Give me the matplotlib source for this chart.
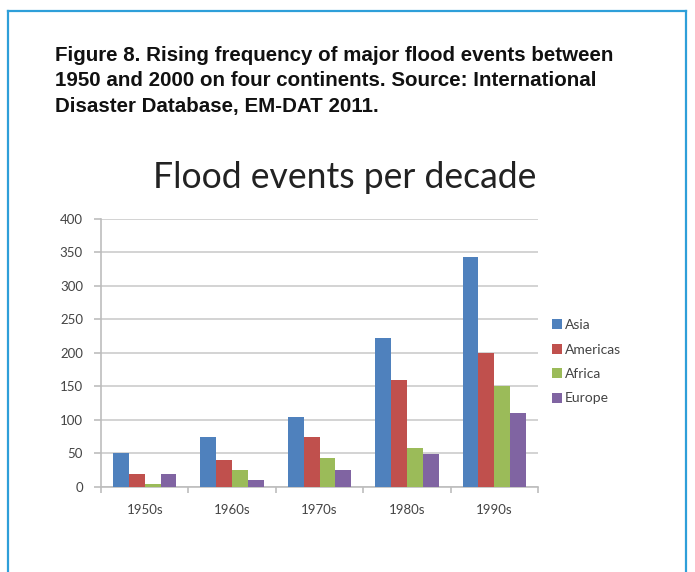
import matplotlib
matplotlib.use("Agg")
import matplotlib.pyplot as plt
import numpy as np
from matplotlib.lines import Line2D

# Flood events per decade by continent (EM-DAT 2011)
decades = ["1950s", "1960s", "1970s", "1980s", "1990s"]
continents = ["Asia", "Americas", "Africa", "Europe"]
asia = [50, 75, 105, 222, 342]
americas = [20, 40, 75, 160, 200]
africa = [5, 25, 43, 58, 150]
europe = [20, 10, 25, 49, 110]
series = [asia, americas, africa, europe]
colors = ["#4F81BD", "#C0504D", "#9BBB59", "#8064A2"]
y_ticks = [0, 50, 100, 150, 200, 250, 300, 350, 400]

caption_lines = [
    "Figure 8. Rising frequency of major flood events between",
    "1950 and 2000 on four continents. Source: International",
    "Disaster Database, EM-DAT 2011.",
]
chart_title = "Flood events per decade"

W, H = 695, 572
fig = plt.figure(figsize=(W / 100, H / 100), dpi=100)
fig.patch.set_facecolor("white")


def fx(px):
    return px / W


def fy(py):
    return 1 - py / H


# blue frame around the figure box (open at the bottom)
frame_color = "#2E9FD9"
for xs, ys in [([7.5, 7.5], [11, H]), ([7.5, 686], [11, 11]), ([686, 686], [11, H])]:
    fig.add_artist(Line2D([fx(v) for v in xs], [fy(v) for v in ys], color=frame_color,
                          lw=1.6, transform=fig.transFigure))

# caption
for i, line in enumerate(caption_lines):
    fig.text(fx(55), fy(61 + 25.5 * i), line, fontsize=14.8, fontweight="bold",
             family="Liberation Sans", color="#111111", va="baseline", ha="left")

# plot area
ax = fig.add_axes([fx(101), fy(487), fx(538) - fx(101), fy(218.5) - fy(487)])
x = np.arange(len(decades))
n = len(series)
bw = 1 / (n + 1.5)
for k, (vals, c, name) in enumerate(zip(series, colors, continents)):
    ax.bar(x + (k - (n - 1) / 2) * bw, vals, width=bw, color=c, label=name,
           zorder=3, linewidth=0)

ax.set_xlim(-0.5, len(decades) - 0.5)
ax.set_ylim(0, 400)
ax.set_yticks(y_ticks)
ax.set_yticklabels([str(v) for v in y_ticks])
ax.set_xticks(x)
ax.set_xticklabels(decades)
ax.set_xticks(np.arange(len(decades) + 1) - 0.5, minor=True)

grid_color = "#d0d0d0"
ax.grid(axis="y", color=grid_color, lw=1.3, zorder=0)
for s in ["top", "right"]:
    ax.spines[s].set_visible(False)
for s in ["left", "bottom"]:
    ax.spines[s].set_color("#bdbdbd")
    ax.spines[s].set_linewidth(1.2)

ax.tick_params(axis="y", which="major", length=5, width=1.2, color="#bdbdbd",
               pad=8, labelcolor="#444444", labelsize=9.5)
ax.tick_params(axis="x", which="major", length=0, pad=12, labelcolor="#444444",
               labelsize=9.5)
ax.tick_params(axis="x", which="minor", length=4, width=1.2, color="#bdbdbd")
for lab in ax.get_xticklabels() + ax.get_yticklabels():
    lab.set_family("Lato")

# chart title
fig.text(fx(345), fy(188), chart_title, fontsize=25.6, family="Lato", color="#222222",
         ha="center", va="baseline")

# legend
leg = ax.legend(loc="upper left", bbox_to_anchor=(fx(552), fy(319)),
                bbox_transform=fig.transFigure, frameon=False,
                handlelength=0.7, handleheight=0.7, handletextpad=0.2,
                labelspacing=0.9, borderpad=0, borderaxespad=0,
                prop=dict(family="Lato", size=10))
for t in leg.get_texts():
    t.set_color("#444444")

fig.savefig("out.png", dpi=100, facecolor="white")
